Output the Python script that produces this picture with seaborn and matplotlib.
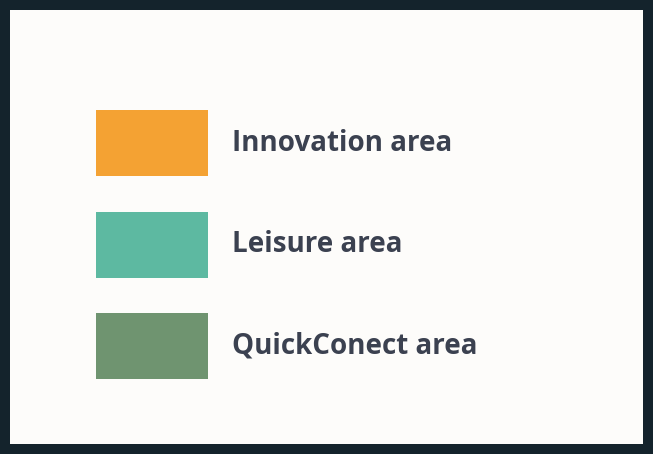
import matplotlib
matplotlib.use("Agg")
import matplotlib.pyplot as plt
import seaborn as sns
from matplotlib.patches import Patch

areas = ["Innovation area", "Leisure area", "QuickConect area"]
area_colors = ["#F4A233", "#5DB9A1", "#6F9470"]

sns.set_theme(style="white")
plt.rcParams['font.family'] = ['Open Sans', 'DejaVu Sans']

palette = sns.color_palette(area_colors)

fig = plt.figure(figsize=(6.53, 4.54), dpi=100)
fig.patch.set_facecolor("#FDFCFA")
fig.patch.set_edgecolor("#14232C")
fig.patch.set_linewidth(13)

fs = 20
px = fs * 100 / 72
# legend box height = px*h - 0.35*px*(h-0.7)
hh = (66 - 0.245 * px) / (0.65 * px)
handles = [Patch(facecolor=c, edgecolor="none") for c in palette]
leg = fig.legend(handles, areas, loc="upper left",
                 bbox_to_anchor=(96 / 653, 1 - 110 / 454),
                 frameon=False, borderpad=0, borderaxespad=0,
                 handlelength=112 / px, handleheight=hh,
                 labelspacing=35.5 / px, handletextpad=24 / px,
                 prop={"size": fs, "weight": "bold"})
for t in leg.get_texts():
    t.set_color("#3B4150")

fig.savefig("out.png", dpi=100, facecolor=fig.get_facecolor(),
            edgecolor=fig.get_edgecolor())
